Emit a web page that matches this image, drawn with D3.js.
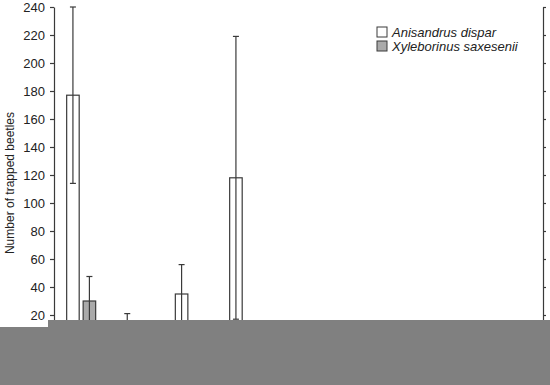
<!DOCTYPE html>
<html>
<head>
<meta charset="utf-8">
<script src="https://cdn.jsdelivr.net/npm/d3@7"></script>
<style>
  html, body { margin: 0; padding: 0; background: #fff; }
  svg { display: block; }
</style>
</head>
<body>
<svg id="chart" width="550" height="385"></svg>
<script>
// ---- data ----
const categories = ["1", "2", "3", "4", "5", "6", "7", "8", "9"];
const seriesNames = ["Anisandrus dispar", "Xyleborinus saxesenii"];
const anisandrusMean = [177, 8, 35, 118, 4, 3, 2, 3, 2];
const anisandrusSD   = [63, 13, 21, 101, 3, 2, 2, 2, 1];
const xyleborinusMean = [30, 3, 2, 4, 1, 2, 1, 1, 1];
const xyleborinusSD   = [17.5, 2, 1, 3, 1, 1, 1, 1, 1];
const yTicks = [0, 20, 40, 60, 80, 100, 120, 140, 160, 180, 200, 220, 240];

const svg = d3.select("#chart");
const mLeft = 54, mRight = 543, mTop = 7, mBottom = 343;

const x0 = d3.scaleBand().domain(categories).range([mLeft, mRight]).padding(0);
const bw = x0.bandwidth();
const x1 = d3.scaleBand().domain(seriesNames)
  .range([bw / 2 - 14.5, bw / 2 + 14.5]).paddingInner(0.24);
const y = d3.scaleLinear().domain([0, 240]).range([mBottom, mTop]);

const fills = {"Anisandrus dispar": "#ffffff", "Xyleborinus saxesenii": "#aaaaaa"};
const stroke = "#3a3a3a";

const rows = [];
categories.forEach((c, i) => {
  rows.push({cat: c, s: seriesNames[0], m: anisandrusMean[i], sd: anisandrusSD[i]});
  rows.push({cat: c, s: seriesNames[1], m: xyleborinusMean[i], sd: xyleborinusSD[i]});
});

// bars
svg.append("g").selectAll("rect").data(rows).join("rect")
  .attr("x", d => x0(d.cat) + x1(d.s))
  .attr("y", d => y(d.m))
  .attr("width", x1.bandwidth())
  .attr("height", d => y(0) - y(d.m))
  .attr("fill", d => fills[d.s])
  .attr("stroke", stroke)
  .attr("stroke-width", 1.2);

// error bars
const eb = svg.append("g").attr("stroke", stroke).attr("stroke-width", 1.2);
rows.forEach(d => {
  const cx = x0(d.cat) + x1(d.s) + x1.bandwidth() / 2;
  const hi = Math.min(240, d.m + d.sd), lo = Math.max(0, d.m - d.sd);
  eb.append("line").attr("x1", cx).attr("x2", cx).attr("y1", y(hi)).attr("y2", y(lo));
  eb.append("line").attr("x1", cx - 3).attr("x2", cx + 3).attr("y1", y(hi)).attr("y2", y(hi));
  eb.append("line").attr("x1", cx - 3).attr("x2", cx + 3).attr("y1", y(lo)).attr("y2", y(lo));
});

// axes
const leftAxis = svg.append("g").attr("transform", `translate(${mLeft},0)`)
  .call(d3.axisLeft(y).tickValues(yTicks).tickSize(4).tickSizeOuter(0).tickPadding(5));
const rightAxis = svg.append("g").attr("transform", `translate(${mRight},0)`)
  .call(d3.axisRight(y).tickValues(yTicks).tickSize(3).tickSizeOuter(0).tickFormat(""));
const xAxis = svg.append("g").attr("transform", `translate(0,${mBottom})`)
  .call(d3.axisBottom(x0).tickSize(0).tickPadding(6));
[leftAxis, rightAxis, xAxis].forEach(g => {
  g.selectAll("path, line").attr("stroke", stroke).attr("stroke-width", 1.2);
  g.selectAll("text").attr("fill", "#222").style("font-family", "'Liberation Sans', Arial, sans-serif").style("font-size", "13px");
});

// y title
svg.append("text")
  .attr("transform", `translate(14,183) rotate(-90)`)
  .attr("text-anchor", "middle")
  .style("font-family", "'Liberation Sans', Arial, sans-serif")
  .style("font-size", "12px")
  .attr("fill", "#222")
  .text("Number of trapped beetles");

// legend
const lg = svg.append("g");
seriesNames.forEach((s, i) => {
  lg.append("rect").attr("x", 377).attr("y", 27 + i * 14).attr("width", 10).attr("height", 10)
    .attr("fill", fills[s]).attr("stroke", stroke).attr("stroke-width", 1);
  lg.append("text").attr("x", 392).attr("y", 36.5 + i * 14)
    .style("font-family", "'Liberation Sans', Arial, sans-serif")
    .style("font-size", "13px").style("font-style", "italic")
    .attr("fill", "#222").text(s);
});

// grey occluding band at the bottom of the picture
svg.append("rect").attr("x", 48).attr("y", 320).attr("width", 502).attr("height", 65).attr("fill", "#808080");
svg.append("rect").attr("x", 0).attr("y", 327).attr("width", 48).attr("height", 58).attr("fill", "#808080");
</script>
</body>
</html>
